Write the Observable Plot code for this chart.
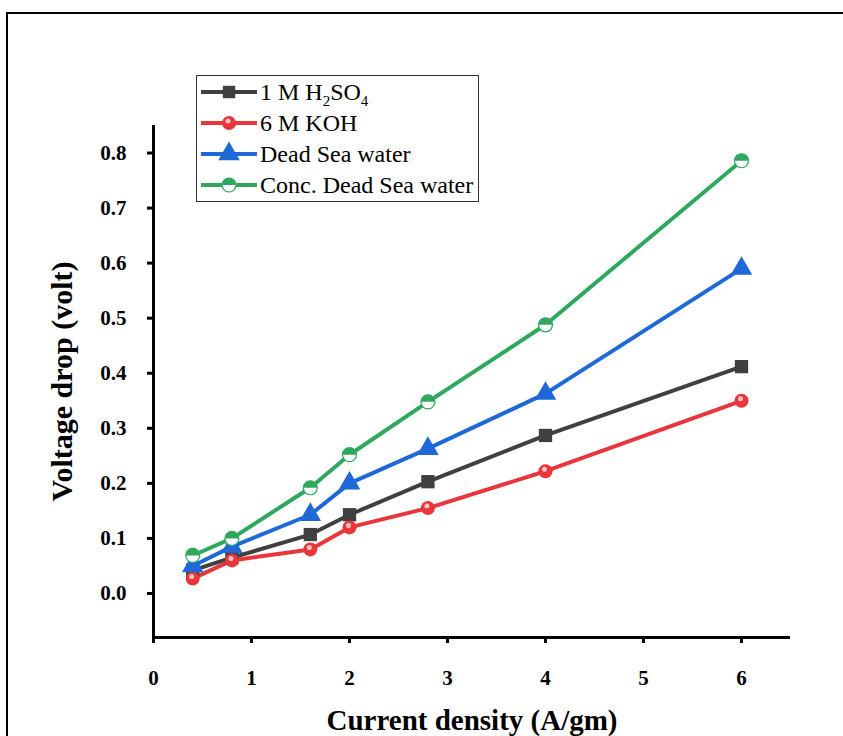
<!DOCTYPE html>
<html>
<head>
<meta charset="utf-8">
<script src="https://cdn.jsdelivr.net/npm/d3@7"></script>
<script src="https://cdn.jsdelivr.net/npm/@observablehq/plot@0.6"></script>
<style>
  html, body { margin: 0; padding: 0; background: #fff; }
  #wrap { position: relative; width: 843px; height: 736px; overflow: hidden; background: #fff; }
  #frame { position: absolute; left: 6px; top: 12px; width: 900px; height: 800px; border: 2px solid #000; box-sizing: border-box; }
  #chart { position: absolute; left: 0; top: 0; }
  #chart svg text { font-family: 'Liberation Serif', 'Times New Roman', serif; }
</style>
</head>
<body>
<div id="wrap"><div id="frame"></div><div id="chart"></div></div>
<script>
const currentDensity = [0.4, 0.8, 1.6, 2, 2.8, 4, 6];
const h2so4 = [0.042, 0.065, 0.107, 0.143, 0.203, 0.287, 0.412];
const koh = [0.027, 0.060, 0.080, 0.120, 0.155, 0.222, 0.350];
const deadSea = [0.050, 0.085, 0.143, 0.200, 0.263, 0.363, 0.590];
const concDeadSea = [0.069, 0.100, 0.192, 0.252, 0.348, 0.488, 0.786];
const seriesNames = ["1 M H2SO4", "6 M KOH", "Dead Sea water", "Conc. Dead Sea water"];
const seriesColors = ["#404040", "#e8363c", "#1e68d8", "#2fa85e"];
const xTicks = [0, 1, 2, 3, 4, 5, 6];
const yTicks = [0, 0.1, 0.2, 0.3, 0.4, 0.5, 0.6, 0.7, 0.8];

const seriesValues = [h2so4, koh, deadSea, concDeadSea];
const data = [];
seriesNames.forEach((name, i) => {
  currentDensity.forEach((x, j) => data.push({ series: name, x, y: seriesValues[i][j] }));
});
const of = name => data.filter(d => d.series === name);

const halfTop = {
  draw(context, size) {
    const r = Math.sqrt(size / Math.PI);
    context.moveTo(-r, 0);
    context.arc(0, 0, r, Math.PI, 2 * Math.PI);
    context.closePath();
  }
};

const font = "'Liberation Serif', 'Times New Roman', serif";

const plot = Plot.plot({
  width: 843,
  height: 736,
  marginLeft: 153,
  marginRight: 53,
  marginTop: 125,
  marginBottom: 99,
  style: { fontFamily: font, background: "transparent", overflow: "visible" },
  x: { domain: [0, 6.5] },
  y: { domain: [-0.08, 0.85] },
  color: { domain: seriesNames, range: seriesColors },
  marks: [
    Plot.axisX({ ticks: xTicks, tickSize: 6, strokeWidth: 3, tickPadding: 27, fontSize: 21, fontWeight: "bold",
      tickFormat: d3.format("d"),
      label: "Current density (A/gm)", labelAnchor: "center", labelOffset: 92, labelArrow: "none" }),
    Plot.axisY({ ticks: yTicks, tickSize: 6, strokeWidth: 3, tickPadding: 21, fontSize: 21, fontWeight: "bold",
      tickFormat: d3.format(".1f"),
      label: "Voltage drop (volt)", labelAnchor: "center", labelOffset: 103, labelArrow: "none" }),
    Plot.ruleY([-0.08], { strokeWidth: 3 }),
    Plot.ruleX([0], { strokeWidth: 3 }),
    Plot.line(data, { x: "x", y: "y", z: "series", stroke: "series", strokeWidth: 4 }),
    Plot.dot(of(seriesNames[0]), { x: "x", y: "y", symbol: "square", r: 7.5, fill: seriesColors[0] }),
    Plot.dot(of(seriesNames[1]), { x: "x", y: "y", symbol: "circle", r: 7, fill: seriesColors[1] }),
    Plot.dot(of(seriesNames[1]), { x: "x", y: "y", symbol: "circle", r: 2.5, fill: "#fbc4c4", dx: -1, dy: -2 }),
    Plot.dot(of(seriesNames[2]), { x: "x", y: "y", symbol: "triangle", r: 8, fill: seriesColors[2] }),
    Plot.dot(of(seriesNames[3]), { x: "x", y: "y", symbol: "circle", r: 7, fill: "#fff", stroke: seriesColors[3], strokeWidth: 1.2 }),
    Plot.dot(of(seriesNames[3]), { x: "x", y: "y", symbol: halfTop, r: 7, fill: seriesColors[3] })
  ]
});

// style axis labels
const svg = d3.select(plot);
svg.selectAll('[aria-label="x-axis label"] text, [aria-label="y-axis label"] text')
  .attr("font-size", 30).attr("font-weight", "bold").attr("fill", "#000");
svg.selectAll('[aria-label="x-axis label"] text').attr("font-size", 29);
svg.selectAll('[aria-label="x-axis tick label"] text, [aria-label="y-axis tick label"] text').attr("fill", "#000");

// legend (drawn with d3 in the plot's svg)
const lg = svg.append("g").attr("font-family", font).attr("font-size", 24).attr("text-anchor", "start");
lg.append("rect").attr("x", 196.5).attr("y", 75.5).attr("width", 282).attr("height", 126)
  .attr("fill", "#fff").attr("stroke", "#333").attr("stroke-width", 1);
const rowY = [92, 123, 154, 185];
const legendSymbols = [d3.symbolSquare, d3.symbolCircle, d3.symbolTriangle, d3.symbolCircle];
seriesNames.forEach((name, i) => {
  const g = lg.append("g").attr("transform", `translate(0,${rowY[i]})`);
  g.append("line").attr("x1", 201).attr("x2", 257).attr("stroke", seriesColors[i]).attr("stroke-width", 4);
  const sym = d3.symbol().type(legendSymbols[i]).size(i === 2 ? 8 * 8 * Math.PI : 7 * 7 * Math.PI);
  if (i === 3) {
    g.append("path").attr("transform", "translate(229,0)").attr("d", sym()).attr("fill", "#fff").attr("stroke", seriesColors[3]).attr("stroke-width", 1.2);
    g.append("path").attr("transform", "translate(229,0)").attr("d", d3.symbol().type(halfTop).size(7 * 7 * Math.PI)()).attr("fill", seriesColors[3]);
  } else {
    g.append("path").attr("transform", "translate(229,0)").attr("d", sym()).attr("fill", seriesColors[i]);
    if (i === 1) g.append("circle").attr("cx", 228).attr("cy", -2).attr("r", 2.5).attr("fill", "#fbc4c4");
  }
  const t = g.append("text").attr("x", 260).attr("y", 8).attr("fill", "#000");
  if (i === 0) {
    t.append("tspan").text("1 M H");
    t.append("tspan").attr("font-size", 15).attr("dy", 6).text("2");
    t.append("tspan").attr("dy", -6).text("SO");
    t.append("tspan").attr("font-size", 15).attr("dy", 6).text("4");
  } else {
    t.text(name);
  }
});

document.getElementById("chart").appendChild(plot);
</script>
</body>
</html>
